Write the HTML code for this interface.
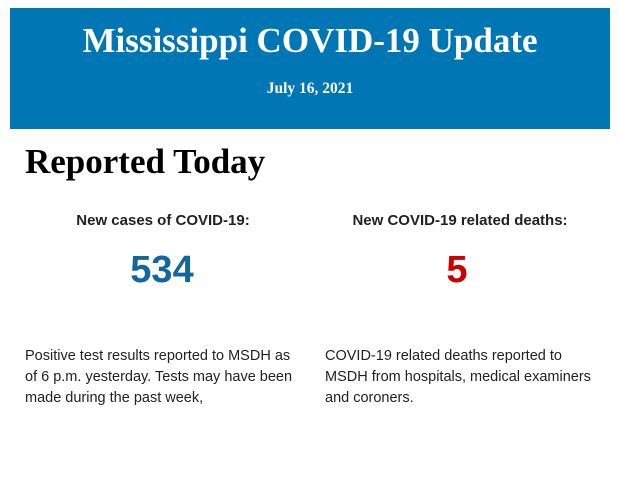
<!DOCTYPE html>
<html><head><style>
body{margin:0;width:620px;height:483px;background:#fff;position:relative;overflow:hidden;font-family:"Liberation Sans",sans-serif}
.hdr{position:absolute;left:10px;top:8px;width:600px;height:121px;background:#0077b4;color:#fff;font-family:"Liberation Serif",serif;text-align:center}
.t{position:absolute;left:0;right:0;top:13px;font-size:35px;font-weight:bold}
.d{position:absolute;left:0;right:0;top:72px;font-size:15.5px;font-weight:bold}
.h2{position:absolute;left:25px;top:142px;font-family:"Liberation Serif",serif;font-size:35px;font-weight:bold;color:#000}
.lab{position:absolute;top:212px;width:300px;text-align:center;font-size:15px;font-weight:bold;color:#222}
.num{position:absolute;top:249px;width:300px;text-align:center;font-size:38px;font-weight:bold;font-family:"Liberation Sans",sans-serif}
.p{position:absolute;top:346px;font-size:14.5px;line-height:21px;color:#222;width:272px}
</style></head><body>
<div class="hdr"><div class="t">Mississippi COVID-19 Update</div><div class="d">July 16, 2021</div></div>
<div class="h2">Reported Today</div>
<div class="lab" style="left:13px">New cases of COVID-19:</div>
<div class="lab" style="left:310px">New COVID-19 related deaths:</div>
<div class="num" style="left:12px;color:#13679c">534</div>
<div class="num" style="left:307px;color:#cc0000">5</div>
<div class="p" style="left:25px">Positive test results reported to MSDH as of 6 p.m. yesterday. Tests may have been made during the past week,</div>
<div class="p" style="left:325px">COVID-19 related deaths reported to MSDH from hospitals, medical examiners and coroners.</div>
</body></html>
